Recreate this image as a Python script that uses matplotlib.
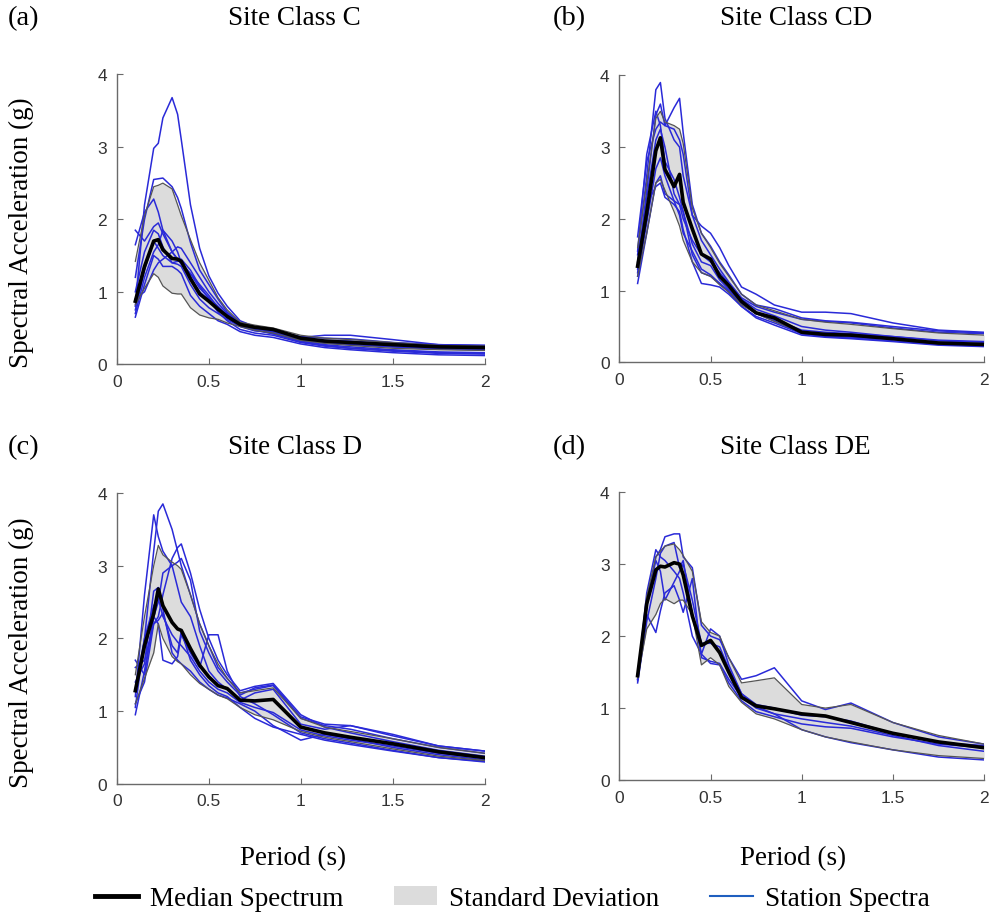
import matplotlib
matplotlib.use("Agg")
import matplotlib.pyplot as plt
from matplotlib.lines import Line2D
from matplotlib.patches import Patch

# periods (s), shared by all panels
periods = [0.1, 0.15, 0.2, 0.225, 0.25, 0.3, 0.33, 0.35, 0.4, 0.45, 0.5, 0.55,
           0.6, 0.67, 0.75, 0.85, 1.0, 1.13, 1.27, 1.5, 1.75, 2.0]

titles = ['Site Class C', 'Site Class CD', 'Site Class D', 'Site Class DE']
letters = ['(a)', '(b)', '(c)', '(d)']

# --- Site Class C
median_c = [0.87, 1.35, 1.70, 1.72, 1.58, 1.46, 1.45, 1.42, 1.18, 0.97, 0.87, 0.76,
            0.66, 0.55, 0.51, 0.48, 0.36, 0.32, 0.30, 0.27, 0.24, 0.23]
upper_c = [1.42, 2.05, 2.45, 2.47, 2.50, 2.42, 2.20, 2.05, 1.72, 1.40, 1.16, 0.92,
           0.75, 0.58, 0.54, 0.50, 0.40, 0.36, 0.34, 0.30, 0.26, 0.25]
lower_c = [0.82, 1.05, 1.25, 1.20, 1.08, 0.98, 0.97, 0.97, 0.78, 0.68, 0.64, 0.62,
           0.57, 0.52, 0.47, 0.43, 0.33, 0.29, 0.26, 0.22, 0.20, 0.19]
stations_c = [
    [0.80, 2.20, 2.98, 3.05, 3.40, 3.68, 3.45, 3.10, 2.20, 1.60, 1.22, 0.98, 0.80, 0.60, 0.52, 0.46, 0.36, 0.33, 0.32, 0.28, 0.25, 0.24],
    [1.20, 2.00, 2.55, 2.56, 2.57, 2.45, 2.30, 2.15, 1.68, 1.30, 1.10, 0.90, 0.72, 0.57, 0.50, 0.47, 0.38, 0.36, 0.35, 0.30, 0.27, 0.26],
    [1.65, 2.10, 2.28, 2.10, 1.85, 1.55, 1.45, 1.40, 1.20, 1.00, 0.88, 0.76, 0.66, 0.55, 0.50, 0.45, 0.37, 0.40, 0.40, 0.34, 0.27, 0.26],
    [1.85, 1.70, 1.90, 1.95, 1.80, 1.55, 1.45, 1.38, 1.25, 1.05, 0.92, 0.80, 0.68, 0.55, 0.50, 0.44, 0.34, 0.30, 0.28, 0.24, 0.21, 0.20],
    [0.70, 1.20, 1.55, 1.65, 1.85, 1.70, 1.55, 1.40, 1.25, 1.10, 0.95, 0.78, 0.64, 0.53, 0.47, 0.42, 0.32, 0.27, 0.24, 0.20, 0.17, 0.16],
    [0.90, 1.00, 1.30, 1.40, 1.45, 1.55, 1.62, 1.60, 1.40, 1.20, 1.00, 0.84, 0.70, 0.56, 0.48, 0.42, 0.31, 0.26, 0.22, 0.18, 0.15, 0.14],
    [0.65, 1.10, 1.50, 1.45, 1.35, 1.35, 1.30, 1.25, 0.95, 0.80, 0.70, 0.60, 0.55, 0.45, 0.40, 0.37, 0.28, 0.23, 0.20, 0.16, 0.13, 0.12],
    [0.75, 1.30, 1.70, 1.60, 1.50, 1.40, 1.42, 1.45, 1.30, 1.08, 0.90, 0.72, 0.60, 0.48, 0.43, 0.40, 0.30, 0.25, 0.22, 0.19, 0.16, 0.15],
    [1.00, 1.55, 1.85, 1.80, 1.62, 1.40, 1.38, 1.35, 1.10, 0.90, 0.78, 0.70, 0.62, 0.52, 0.46, 0.44, 0.33, 0.29, 0.27, 0.24, 0.22, 0.21],
]

# --- Site Class CD
median_cd = [1.34, 2.09, 2.95, 3.13, 2.69, 2.45, 2.62, 2.23, 1.86, 1.51, 1.44, 1.20,
             1.07, 0.85, 0.69, 0.62, 0.42, 0.39, 0.38, 0.33, 0.27, 0.25]
upper_cd = [1.60, 2.50, 3.40, 3.50, 3.35, 3.30, 3.25, 3.05, 2.15, 1.80, 1.60, 1.38,
            1.20, 0.95, 0.80, 0.72, 0.60, 0.56, 0.53, 0.47, 0.41, 0.38]
lower_cd = [1.20, 1.80, 2.50, 2.55, 2.40, 2.10, 1.90, 1.70, 1.40, 1.25, 1.20, 1.08,
            0.98, 0.80, 0.68, 0.57, 0.42, 0.39, 0.37, 0.33, 0.28, 0.26]
stations_cd = [
    [1.50, 2.60, 3.80, 3.90, 3.40, 3.10, 3.00, 2.60, 2.05, 1.70, 1.50, 1.30, 1.12, 0.90, 0.78, 0.70, 0.60, 0.57, 0.55, 0.48, 0.42, 0.40],
    [1.30, 2.40, 3.45, 3.60, 3.30, 3.55, 3.68, 3.20, 2.20, 1.80, 1.62, 1.40, 1.22, 0.95, 0.80, 0.75, 0.62, 0.58, 0.56, 0.50, 0.44, 0.41],
    [1.75, 2.80, 3.25, 3.35, 3.30, 3.25, 3.10, 2.90, 2.05, 1.90, 1.80, 1.60, 1.35, 1.05, 0.95, 0.80, 0.70, 0.70, 0.68, 0.55, 0.45, 0.42],
    [1.10, 1.80, 2.50, 2.60, 2.35, 2.25, 2.20, 2.10, 1.50, 1.25, 1.20, 1.10, 1.00, 0.82, 0.68, 0.58, 0.40, 0.36, 0.34, 0.30, 0.25, 0.23],
    [1.25, 2.20, 2.45, 2.50, 2.30, 2.20, 2.10, 1.85, 1.40, 1.10, 1.08, 1.05, 0.95, 0.78, 0.62, 0.52, 0.38, 0.35, 0.33, 0.29, 0.24, 0.22],
    [1.55, 2.90, 3.50, 3.30, 2.80, 2.55, 2.30, 2.10, 1.65, 1.40, 1.35, 1.15, 1.02, 0.82, 0.70, 0.60, 0.45, 0.42, 0.40, 0.36, 0.30, 0.28],
    [1.40, 2.30, 3.10, 3.25, 3.00, 2.35, 2.20, 2.00, 1.70, 1.50, 1.40, 1.25, 1.10, 0.88, 0.74, 0.65, 0.50, 0.45, 0.42, 0.36, 0.31, 0.29],
    [1.20, 1.95, 2.70, 2.85, 2.60, 2.25, 2.05, 1.80, 1.55, 1.30, 1.22, 1.10, 0.98, 0.78, 0.64, 0.55, 0.40, 0.37, 0.35, 0.32, 0.27, 0.25],
]

# --- Site Class D
median_d = [1.28, 1.90, 2.34, 2.68, 2.45, 2.22, 2.13, 2.11, 1.86, 1.63, 1.47, 1.35,
            1.31, 1.15, 1.14, 1.16, 0.78, 0.70, 0.64, 0.55, 0.44, 0.36]
upper_d = [1.50, 2.30, 3.00, 3.28, 3.15, 3.05, 3.00, 2.95, 2.60, 2.20, 1.90, 1.65,
           1.45, 1.25, 1.28, 1.32, 0.90, 0.78, 0.72, 0.62, 0.50, 0.42]
lower_d = [1.10, 1.45, 1.80, 2.20, 2.00, 1.75, 1.68, 1.65, 1.50, 1.38, 1.30, 1.22,
           1.17, 1.05, 0.95, 0.88, 0.72, 0.64, 0.58, 0.48, 0.38, 0.32]
stations_d = [
    [1.05, 2.00, 3.20, 3.75, 3.85, 3.50, 3.20, 3.00, 2.60, 2.20, 1.90, 1.60, 1.45, 1.25, 1.30, 1.35, 0.90, 0.80, 0.75, 0.62, 0.50, 0.42],
    [1.20, 2.60, 3.70, 3.40, 3.20, 3.00, 3.05, 3.10, 2.80, 2.10, 1.80, 1.55, 1.40, 1.22, 1.32, 1.36, 0.92, 0.82, 0.80, 0.66, 0.52, 0.45],
    [1.60, 1.70, 2.20, 2.30, 2.60, 3.10, 3.25, 3.30, 2.90, 2.40, 2.00, 1.70, 1.50, 1.28, 1.34, 1.38, 0.95, 0.78, 0.70, 0.58, 0.46, 0.38],
    [0.95, 1.55, 2.30, 2.20, 1.70, 1.65, 1.75, 2.05, 1.80, 1.60, 2.05, 2.05, 1.55, 1.20, 1.10, 0.95, 0.70, 0.62, 0.56, 0.46, 0.36, 0.30],
    [1.40, 1.65, 2.65, 2.70, 2.40, 1.80, 1.70, 1.65, 1.55, 1.40, 1.30, 1.22, 1.18, 1.10, 1.00, 0.80, 0.60, 0.68, 0.62, 0.50, 0.40, 0.33],
    [1.70, 1.50, 2.30, 2.50, 2.90, 3.00, 2.70, 2.50, 2.30, 1.90, 1.55, 1.40, 1.30, 1.15, 1.25, 1.30, 0.82, 0.75, 0.80, 0.68, 0.52, 0.45],
    [1.10, 1.40, 2.20, 2.25, 2.35, 1.90, 1.80, 2.10, 1.70, 1.50, 1.35, 1.25, 1.20, 1.05, 0.90, 0.78, 0.68, 0.60, 0.54, 0.45, 0.36, 0.31],
    [1.30, 2.00, 2.45, 2.55, 2.30, 2.05, 1.95, 1.90, 1.75, 1.55, 1.40, 1.30, 1.25, 1.12, 1.05, 0.98, 0.74, 0.66, 0.60, 0.52, 0.42, 0.35],
]

# --- Site Class DE
median_de = [1.45, 2.45, 2.92, 2.97, 2.96, 3.02, 3.00, 2.85, 2.28, 1.87, 1.94, 1.77,
             1.50, 1.15, 1.03, 0.99, 0.92, 0.89, 0.80, 0.65, 0.53, 0.45]
upper_de = [1.45, 2.55, 3.10, 3.18, 3.25, 3.28, 3.20, 3.12, 2.90, 2.20, 2.05, 2.00,
            1.70, 1.35, 1.38, 1.42, 1.05, 1.00, 1.05, 0.80, 0.62, 0.50]
lower_de = [1.42, 2.10, 2.30, 2.45, 2.52, 2.45, 2.50, 2.50, 2.30, 1.60, 1.70, 1.60,
            1.30, 1.08, 0.92, 0.85, 0.70, 0.60, 0.53, 0.42, 0.34, 0.30]
stations_de = [
    [1.40, 2.40, 3.10, 3.20, 3.38, 3.42, 3.42, 3.10, 2.95, 2.15, 2.00, 1.95, 1.70, 1.40, 1.45, 1.56, 1.10, 0.98, 1.07, 0.80, 0.60, 0.50],
    [1.35, 2.20, 2.80, 3.15, 3.25, 3.30, 2.95, 3.05, 2.30, 1.75, 2.10, 2.00, 1.60, 1.20, 1.05, 1.00, 0.90, 0.88, 0.82, 0.65, 0.52, 0.48],
    [1.38, 2.30, 2.05, 2.35, 2.60, 2.70, 2.50, 2.33, 2.80, 1.70, 1.65, 1.62, 1.40, 1.15, 1.00, 0.92, 0.70, 0.60, 0.52, 0.42, 0.32, 0.28],
    [1.45, 2.50, 3.05, 2.90, 2.50, 2.75, 2.90, 3.00, 2.50, 1.90, 1.90, 1.85, 1.55, 1.20, 1.02, 0.92, 0.85, 0.80, 0.75, 0.62, 0.48, 0.40],
    [1.40, 2.60, 3.20, 3.10, 3.05, 2.90, 2.80, 2.60, 2.00, 1.75, 1.62, 1.60, 1.35, 1.10, 0.95, 0.88, 0.78, 0.74, 0.72, 0.60, 0.50, 0.45],
]

panels = [
    (median_c, upper_c, lower_c, stations_c),
    (median_cd, upper_cd, lower_cd, stations_cd),
    (median_d, upper_d, lower_d, stations_d),
    (median_de, upper_de, lower_de, stations_de),
]

serif = ['Liberation Serif', 'DejaVu Serif']
sans = ['Liberation Sans', 'DejaVu Sans']
station_blue = '#2a2ad8'

fig = plt.figure(figsize=(9.91, 9.2), dpi=100)
# axes boxes (figure fractions)
boxes = [
    [0.118, 0.603, 0.371, 0.315],
    [0.625, 0.605, 0.368, 0.312],
    [0.118, 0.147, 0.371, 0.316],
    [0.625, 0.151, 0.368, 0.313],
]
letter_pos = [(0.008, 0.980), (0.558, 0.980), (0.008, 0.514), (0.558, 0.514)]
title_y = [0.980, 0.980, 0.514, 0.514]

for i, (med, hi, lo, stations) in enumerate(panels):
    ax = fig.add_axes(boxes[i])
    ax.fill_between(periods, lo, hi, color='#dcdcdc', lw=0, zorder=1)
    for s in stations:
        ax.plot(periods, s, color=station_blue, lw=1.1, zorder=2)
    ax.plot(periods, hi, color='#555555', lw=0.9, zorder=3)
    ax.plot(periods, lo, color='#555555', lw=0.9, zorder=3)
    ax.plot(periods, med, color='black', lw=2.6, zorder=4)

    ax.set_xlim(0, 2)
    ax.set_ylim(0, 4)
    ax.set_xticks([0, 0.5, 1, 1.5, 2])
    ax.set_xticklabels(['0', '0.5', '1', '1.5', '2'])
    ax.set_yticks([0, 1, 2, 3, 4])
    for side in ['top', 'right']:
        ax.spines[side].set_visible(False)
    for side in ['left', 'bottom']:
        ax.spines[side].set_color('#6a6a6a')
        ax.spines[side].set_linewidth(1.0)
    ax.tick_params(direction='in', length=4, width=0.8, color='#6a6a6a',
                   labelsize=12.5, labelcolor='#333333', pad=7)
    for lab in ax.get_xticklabels() + ax.get_yticklabels():
        lab.set_family(sans)

    cx = boxes[i][0] + boxes[i][2] / 2 - 0.006
    fig.text(cx, title_y[i], titles[i], ha='center', va='center',
             fontsize=19.5, family=serif)
    fig.text(letter_pos[i][0], letter_pos[i][1], letters[i], ha='left',
             va='center', fontsize=20.5, family=serif)

fig.text(0.022, 0.747, 'Spectral Acceleration (g)', rotation=90, ha='center',
         va='center', fontsize=19.5, family=serif)
fig.text(0.022, 0.291, 'Spectral Acceleration (g)', rotation=90, ha='center',
         va='center', fontsize=19.5, family=serif)
fig.text(0.296, 0.067, 'Period (s)', ha='center', va='center', fontsize=19.5,
         family=serif)
fig.text(0.800, 0.067, 'Period (s)', ha='center', va='center', fontsize=19.5,
         family=serif)

handles = [
    Line2D([], [], color='black', lw=3.5),
    Patch(facecolor='#dcdcdc', edgecolor='none'),
    Line2D([], [], color='#1f5fbf', lw=1.5),
]
fig.legend(handles, ['Median Spectrum', 'Standard Deviation', 'Station Spectra'],
           loc='center', bbox_to_anchor=(0.517, 0.022), ncol=3, frameon=False,
           prop={'family': serif, 'size': 19.5}, handlelength=1.6,
           columnspacing=1.85, handletextpad=0.45)

fig.savefig('out.png', dpi=100)
